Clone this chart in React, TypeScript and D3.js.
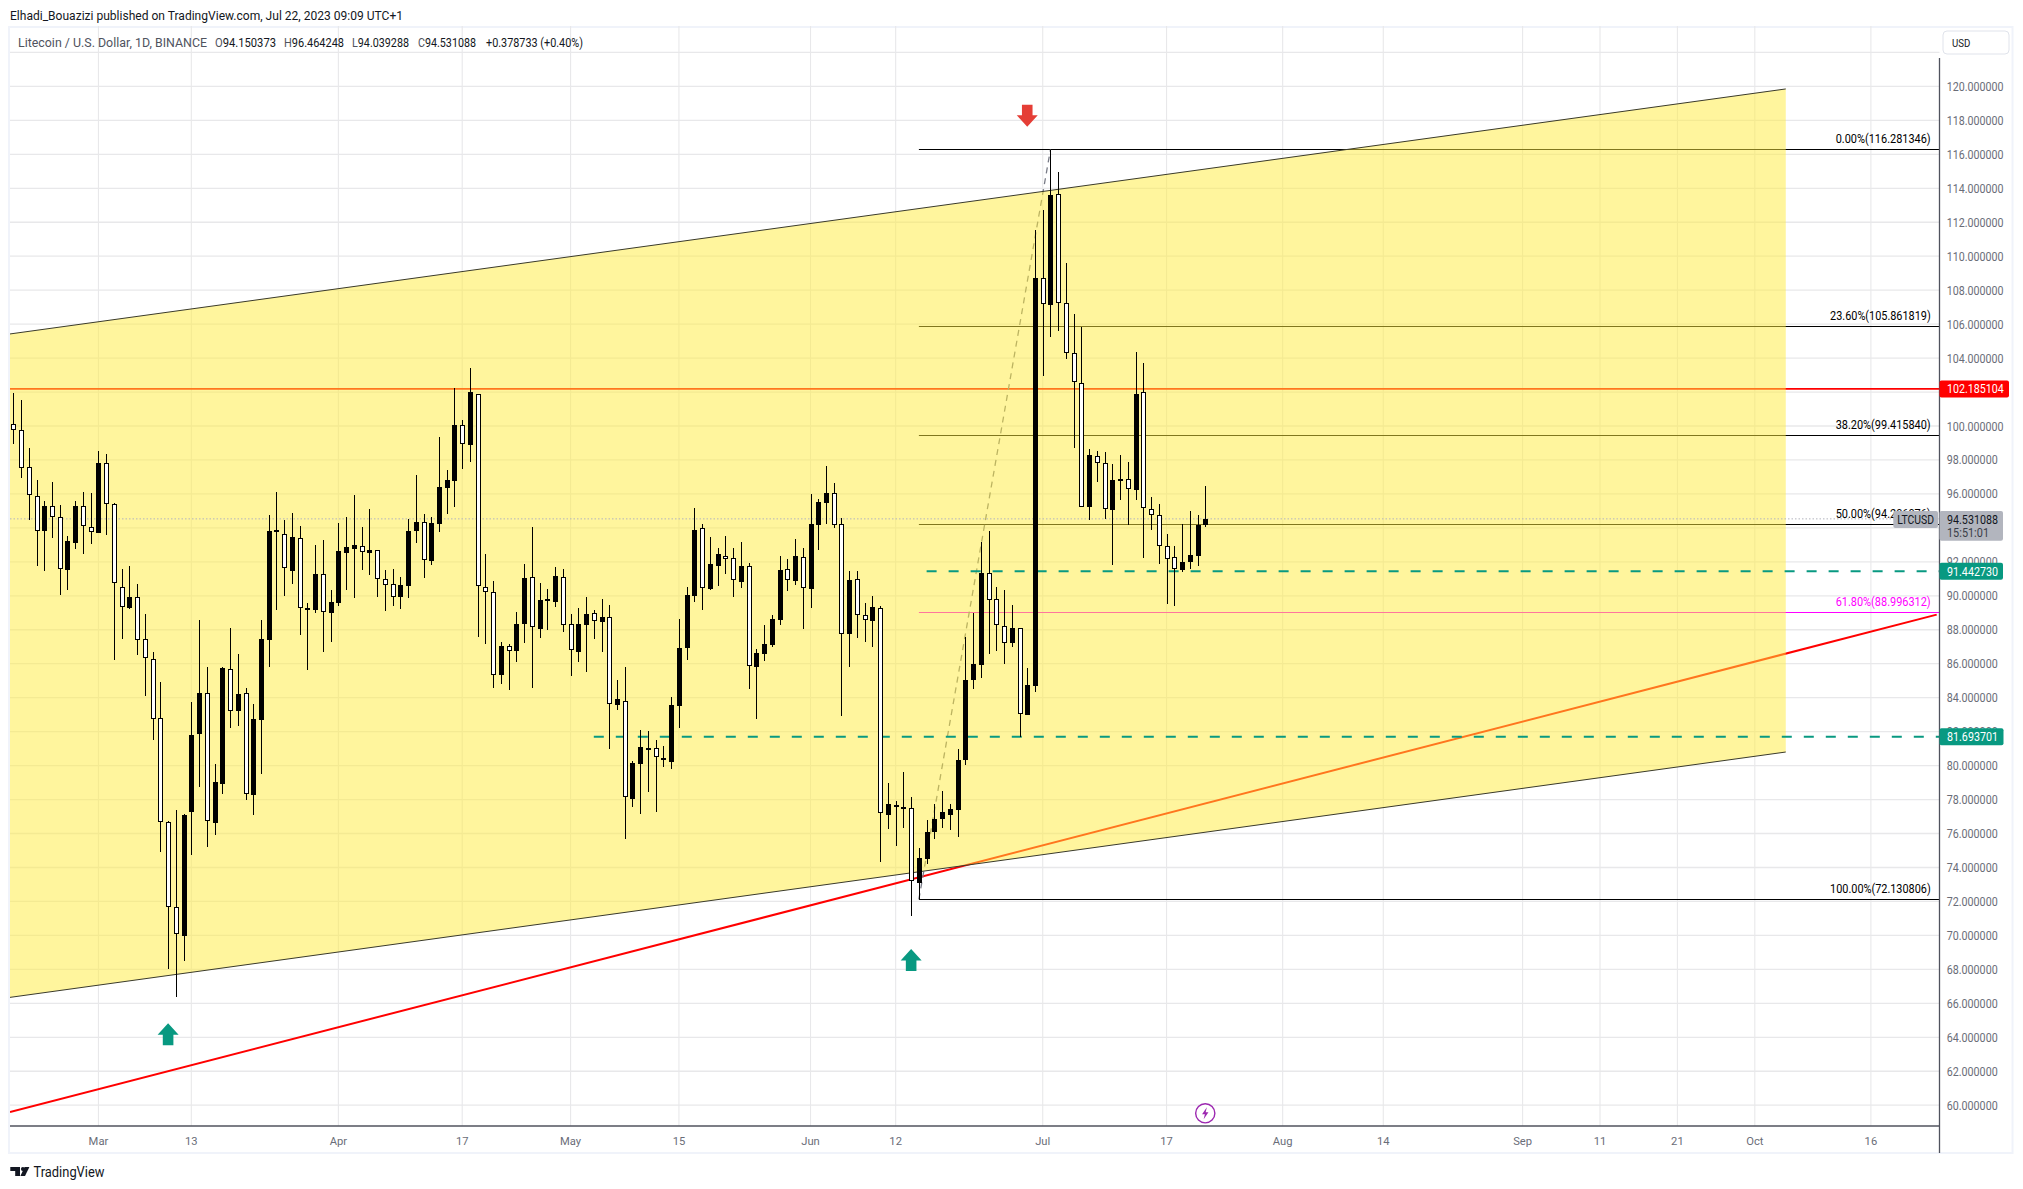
import React from "react";
import * as d3 from "d3";

const startDate = new Date(Date.UTC(2023, 1, 18));

const opens = [
  100.10,99.75,97.57,95.86,93.80,95.27,94.62,91.54,93.13,95.27,
  94.03,93.72,97.80,95.39,90.50,89.30,89.91,87.44,86.26,82.79,
  76.66,71.66,69.99,77.29,81.88,84.26,76.64,78.94,85.67,83.24,
  84.26,78.29,82.71,87.42,93.86,93.62,91.48,93.39,89.26,89.18,
  91.27,89.01,89.60,92.54,92.78,92.95,92.54,92.68,90.97,90.68,
  89.95,90.60,93.84,94.33,92.07,94.25,96.37,96.78,100.04,98.90,
  101.87,90.50,90.21,85.36,87.03,86.77,88.36,91.09,88.07,89.80,
  89.66,91.09,88.32,86.71,88.30,88.97,88.48,88.74,83.59,83.79,
  78.06,80.12,80.96,81.02,80.43,80.24,83.53,86.95,90.01,93.98,
  90.42,91.78,92.37,92.21,90.84,91.74,85.83,86.60,87.11,88.60,
  91.56,90.89,92.27,90.42,94.19,95.49,96.04,94.21,87.77,90.97,
  88.85,88.54,89.27,77.11,77.70,77.49,77.49,73.11,74.50,76.11,
  76.88,77.11,77.41,80.35,85.07,85.95,91.33,89.80,88.20,87.24,
  88.09,83.00,84.71,108.69,107.14,113.64,107.22,104.28,102.51,95.25,
  98.21,97.80,95.05,96.86,96.86,96.25,101.98,95.09,94.74,92.91,
  92.27,91.54,92.01,92.35,94.15,
];
const closes = [
  99.75,97.51,95.92,93.80,95.27,94.62,91.56,93.21,95.27,94.09,
  93.74,97.80,95.39,90.73,89.32,89.91,87.38,86.32,82.73,76.66,
  71.66,70.06,77.09,81.80,84.26,76.72,79.02,85.73,83.20,84.20,
  78.31,82.73,87.44,93.80,93.74,91.62,93.44,89.26,89.15,91.27,
  89.03,89.62,92.62,92.86,92.97,92.56,92.68,90.97,90.62,89.91,
  90.62,93.80,94.33,92.09,94.27,96.39,96.80,100.04,98.92,101.99,
  90.56,90.21,85.32,87.03,86.73,88.32,91.03,88.15,89.74,89.68,
  91.15,88.26,86.79,88.32,88.91,88.50,88.74,83.61,83.91,78.14,
  80.14,81.08,81.02,80.49,80.31,83.55,86.91,90.03,93.86,90.44,
  91.86,92.45,92.19,90.91,91.74,85.85,86.62,87.15,88.62,91.50,
  90.91,92.33,90.44,94.21,95.51,96.04,94.19,87.73,90.91,88.85,
  88.56,89.32,77.19,77.72,77.57,77.55,73.19,74.54,76.07,76.84,
  77.25,77.43,80.31,85.03,85.97,91.33,89.74,88.26,87.20,88.09,
  83.02,84.73,108.69,107.16,113.60,107.26,104.28,102.57,95.25,98.29,
  97.84,95.09,96.82,96.74,96.27,101.88,95.15,94.74,92.95,92.19,
  91.60,91.97,92.38,94.17,94.53,
];
const highs = [
  101.96,101.53,98.69,96.82,95.58,96.70,95.35,93.52,95.58,96.11,
  96.06,98.53,98.35,95.45,91.58,91.76,90.70,88.93,86.69,84.91,
  76.74,77.39,77.13,83.75,88.58,85.83,80.10,85.83,88.11,86.57,
  84.55,83.63,88.58,94.76,96.11,94.47,94.88,94.11,89.56,92.99,
  93.29,90.34,94.29,94.64,95.94,94.05,95.11,92.70,91.52,91.58,
  91.11,94.50,97.12,94.82,94.64,99.35,97.41,102.24,100.35,103.40,
  101.87,92.47,90.87,87.28,87.15,89.05,91.88,94.06,90.76,90.40,
  91.70,91.58,88.93,89.28,89.93,89.17,89.82,89.46,85.05,85.81,
  80.27,82.10,82.04,81.51,81.16,84.04,88.64,90.52,95.17,94.23,
  93.47,92.82,93.53,92.82,93.17,91.94,86.87,88.28,88.85,92.35,
  92.17,93.35,92.82,96.00,95.68,97.65,96.65,94.59,91.46,91.46,
  89.58,89.99,89.40,78.96,77.92,79.63,78.15,75.17,76.80,77.74,
  78.51,77.74,80.98,87.58,88.99,93.17,93.82,90.52,90.35,89.46,
  88.09,85.75,111.54,112.72,116.28,114.96,109.58,106.59,105.83,98.64,
  98.53,98.47,97.76,98.29,97.88,104.36,103.71,95.82,95.41,93.64,
  92.93,94.23,95.00,94.76,96.46,
];
const lows = [
  98.96,96.96,94.47,91.78,91.48,93.42,90.07,90.34,92.78,92.48,
  93.07,93.72,93.60,86.24,87.47,89.24,86.53,84.12,81.53,74.93,
  68.04,66.39,68.51,74.76,78.76,75.23,75.93,78.35,82.24,82.35,
  78.00,77.11,79.53,85.83,89.18,89.99,90.70,87.69,85.65,89.01,
  86.71,87.30,89.42,90.34,89.89,91.52,91.23,89.95,89.13,89.42,
  89.24,89.89,93.13,91.07,91.80,93.78,94.82,95.25,97.49,97.90,
  87.60,87.18,84.59,84.83,84.48,86.12,87.24,84.59,87.54,88.01,
  89.36,87.89,85.30,86.12,85.54,87.48,86.71,80.96,83.30,75.70,
  77.59,77.17,78.47,77.29,79.94,79.82,82.24,86.24,89.66,89.19,
  90.33,90.60,91.31,89.95,90.48,84.53,82.77,86.18,87.01,88.30,
  90.31,90.66,88.07,89.30,92.72,94.25,94.02,82.94,85.83,87.54,
  87.30,87.01,74.35,76.29,75.29,76.35,71.17,72.13,74.21,75.68,
  76.35,76.21,75.82,80.04,84.52,85.16,86.60,86.75,85.99,87.01,
  81.71,82.98,84.35,102.94,105.26,105.59,103.96,98.72,95.25,94.46,
  96.72,94.52,91.81,95.64,94.19,95.64,92.24,93.88,91.87,89.52,
  89.40,91.42,91.56,91.76,94.04,
];

const priceTicks = d3.range(60, 121, 2);
const timeTicks: [string, string][] = [
  ["2023-03-01", "Mar"], ["2023-03-13", "13"], ["2023-04-01", "Apr"], ["2023-04-17", "17"],
  ["2023-05-01", "May"], ["2023-05-15", "15"], ["2023-06-01", "Jun"], ["2023-06-12", "12"],
  ["2023-07-01", "Jul"], ["2023-07-17", "17"], ["2023-08-01", "Aug"], ["2023-08-14", "14"],
  ["2023-09-01", "Sep"], ["2023-09-11", "11"], ["2023-09-21", "21"], ["2023-10-01", "Oct"],
  ["2023-10-16", "16"],
];
const fibLevels: [string, number, string][] = [
  ["0.00%", 116.281346, "#000000"],
  ["23.60%", 105.861819, "#000000"],
  ["38.20%", 99.41584, "#000000"],
  ["50.00%", 94.206076, "#000000"],
  ["61.80%", 88.996312, "#ff00ff"],
  ["100.00%", 72.130806, "#000000"],
];
const fibStartDay = 117;
const fibTrend: [number, number][] = [[117, 72.130806], [134, 116.281346]];
const channelTop: [number, number][] = [[-0.43, 105.42], [229, 119.85]];
const channelBottom: [number, number][] = [[-0.43, 66.35], [229, 80.80]];
const redTrend: [number, number][] = [[-0.43, 59.60], [248.5, 88.89]];
const redLevel = 102.185104;
const greenLevels: [number, number][] = [[91.44273, 118], [81.693701, 75]];
const upArrows: [number, number][] = [[20, 64.82], [116, 69.20]];
const downArrows: [number, number][] = [[131, 117.63]];
const lastPrice = 94.531088;
const ohlcHeader: [string, string][] = [
  ["O", "94.150373"], ["H", "96.464248"], ["L", "94.039288"], ["C", "94.531088"],
];

const L = 10, R = 1939.5, T = 26, B = 1126;
const x = d3.scaleLinear().domain([0, 154]).range([13.3, 1205.26]);
const y = d3.scaleLinear().domain([120, 60]).range([86.4, 1105.2]);
const seg = d3.line<[number, number]>().x((d) => x(d[0])).y((d) => y(d[1]));
const FONT = "Roboto, 'Noto Sans', sans-serif";
const AXIS = "#6a6d78";
const GREEN = "#089981";
const GRID = "#e8e8ea";
const ohlcX = [215, 284, 352, 418];
const ohlcW = [61, 60, 57, 58];

function dayIndex(s: string) {
  return d3.utcDay.count(startDate, new Date(s + "T00:00:00Z"));
}
function numWidth(s: string) {
  return s.length >= 10 ? 56.8 : 51;
}

function Tag({ yc, label, fill, w }: { yc: number; label: string; fill: string; w: number }) {
  return (
    <g>
      <rect x={R} y={yc - 8.5} width={w} height={17} rx={2} fill={fill} />
      <text x={1947} y={yc + 4.5} fill="#fff" fontSize={12} fontFamily={FONT}
        textLength={numWidth(label)} lengthAdjust="spacingAndGlyphs">{label}</text>
    </g>
  );
}

export default function App() {
  const channelArea = [...channelTop, ...channelBottom.slice().reverse()];
  const yLast = y(lastPrice);
  return (
    <svg width={2023} height={1189} style={{ position: "absolute", left: 0, top: 0, display: "block", background: "#fff" }}>
      <defs>
        <clipPath id="plot"><rect x={L} y={T} width={R - L} height={B - T} /></clipPath>
      </defs>

      <text x={10} y={19.5} fontSize={12.3} fontFamily={FONT} fill="#131722" textLength={393} lengthAdjust="spacingAndGlyphs">
        Elhadi_Bouazizi published on TradingView.com, Jul 22, 2023 09:09 UTC+1
      </text>

      {/* frame */}
      <rect x={9} y={27} width={2003.5} height={1126} fill="none" stroke="#f0f3fa" strokeWidth={2} />

      {/* grid */}
      {priceTicks.concat([122]).map((p) => (
        <line key={p} x1={L} x2={R} y1={y(p)} y2={y(p)} stroke={GRID} strokeWidth={1.3} />
      ))}
      {timeTicks.map(([d]) => (
        <line key={d} x1={x(dayIndex(d))} x2={x(dayIndex(d))} y1={T} y2={B} stroke={GRID} strokeWidth={1.1} />
      ))}

      <g clipPath="url(#plot)">
        {/* lines that sit beneath the translucent channel */}
        <path d={seg(redTrend)!} stroke="#ff0000" strokeWidth={2} fill="none" />
        <line x1={L} x2={R} y1={y(redLevel)} y2={y(redLevel)} stroke="#ff0000" strokeWidth={1.6} />
        {fibLevels.map(([name, v, c]) => {
          const ly = Math.floor(y(v)) + 0.5;
          return <line key={name} x1={x(fibStartDay)} x2={R} y1={ly} y2={ly} stroke={c} strokeWidth={1} />;
        })}
        <path d={seg(fibTrend)!} stroke="#787b86" strokeWidth={1.3} strokeDasharray="6 5" fill="none" />

        {/* channel */}
        <path d={seg(channelArea)! + "Z"} fill="#ffeb3b" fillOpacity={0.5} />
        <path d={seg(channelTop)!} stroke="#3a3a2a" strokeWidth={1} fill="none" />
        <path d={seg(channelBottom)!} stroke="#3a3a2a" strokeWidth={1} fill="none" />

        {/* last price */}
        <line x1={L} x2={R} y1={yLast} y2={yLast} stroke="#b2b5be" strokeWidth={1} strokeDasharray="1.5 2" />

        {/* horizontal dashed levels */}
        {greenLevels.map(([v, d]) => (
          <line key={v} x1={x(d)} x2={R} y1={y(v)} y2={y(v)} stroke={GREEN} strokeWidth={2} strokeDasharray="10 12" />
        ))}

        {/* candles */}
        {opens.map((o, i) => {
          const c = closes[i];
          const cx = Math.round(x(i));
          const top = Math.round(y(Math.max(o, c)));
          const bot = Math.max(Math.round(y(Math.min(o, c))), top + 2);
          const up = c >= o;
          return (
            <g key={i} shapeRendering="crispEdges">
              <rect x={cx} y={y(highs[i])} width={1} height={y(lows[i]) - y(highs[i])} fill="#000" />
              <rect x={cx - 2} y={top} width={5} height={bot - top} fill="#000" />
              {!up && bot - top > 2 && (
                <rect x={cx - 1} y={top + 1} width={3} height={bot - top - 2} fill="#fff" />
              )}
            </g>
          );
        })}

        {/* arrows */}
        {upArrows.map(([d, p]) => {
          const ax = x(d), ay = y(p);
          return (
            <path key={d} fill={GREEN}
              d={`M${ax},${ay}L${ax + 10.5},${ay + 11.5}H${ax + 5.3}V${ay + 22}H${ax - 5.3}V${ay + 11.5}H${ax - 10.5}Z`} />
          );
        })}
        {downArrows.map(([d, p]) => {
          const ax = x(d), ay = y(p);
          return (
            <path key={d} fill="#e53e36"
              d={`M${ax},${ay}L${ax + 10.5},${ay - 11.5}H${ax + 5.3}V${ay - 22}H${ax - 5.3}V${ay - 11.5}H${ax - 10.5}Z`} />
          );
        })}

        {/* lightning marker */}
        <g transform={`translate(${x(154)},${1113.3})`}>
          <circle r={9.6} fill="#fff" stroke="#9c27b0" strokeWidth={1.4} />
          <path d="M1.6,-6L-3.2,1H-0.4L-1.6,6L3.2,-1H0.4Z" fill="#9c27b0" />
        </g>
      </g>

      {/* fib labels */}
      {fibLevels.map(([name, v, c]) => {
        const label = `${name}(${v.toFixed(6)})`;
        return (
          <text key={name} x={1930.7} y={y(v) - 6.5} textAnchor="end" fontSize={12} fontFamily={FONT} fill={c}
            textLength={label.length * 5.59} lengthAdjust="spacingAndGlyphs">
            {label}
          </text>
        );
      })}

      {/* axes */}
      <line x1={L} x2={R} y1={B} y2={B} stroke="#50535e" strokeWidth={1.3} />
      <line x1={R} x2={R} y1={58} y2={1153} stroke="#50535e" strokeWidth={1.3} />
      {priceTicks.map((p) => {
        const label = p.toFixed(6);
        return (
          <text key={p} x={1946.7} y={y(p) + 4.5} fontSize={12} fontFamily={FONT} fill={AXIS}
            textLength={numWidth(label)} lengthAdjust="spacingAndGlyphs">
            {label}
          </text>
        );
      })}
      {timeTicks.map(([d, label]) => (
        <text key={d} x={x(dayIndex(d))} y={1144.5} textAnchor="middle" fontSize={11.2} fontFamily={FONT} fill={AXIS}>
          {label}
        </text>
      ))}

      {/* price tags */}
      <Tag yc={y(redLevel)} label="102.185104" fill="#ff0000" w={69.5} />
      <Tag yc={y(91.44273)} label="91.442730" fill={GREEN} w={63.5} />
      <Tag yc={y(81.693701)} label="81.693701" fill={GREEN} w={64} />
      <rect x={1893.3} y={511} width={44.7} height={17} rx={2} fill="#b2b5be" />
      <text x={1915.6} y={524} textAnchor="middle" fontSize={12} fontFamily={FONT} fill="#131722"
        textLength={36.7} lengthAdjust="spacingAndGlyphs">LTCUSD</text>
      <rect x={R} y={511} width={63.5} height={29.7} rx={2} fill="#b2b5be" />
      <text x={1947} y={524} fontSize={12} fontFamily={FONT} fill="#131722" textLength={51} lengthAdjust="spacingAndGlyphs">94.531088</text>
      <text x={1947} y={536.5} fontSize={12} fontFamily={FONT} fill="#3a3d48" textLength={42} lengthAdjust="spacingAndGlyphs">15:51:01</text>

      {/* header */}
      <text y={46.5} fontSize={12} fontFamily={FONT} fill="#50535e" x={18} textLength={189} lengthAdjust="spacingAndGlyphs">Litecoin / U.S. Dollar, 1D, BINANCE</text>
      {ohlcHeader.map(([k, v], i) => (
        <text key={k} y={46.5} x={ohlcX[i]} fontSize={12} fontFamily={FONT} fill="#131722"
          textLength={ohlcW[i]} lengthAdjust="spacingAndGlyphs">
          <tspan fill="#50535e">{k}</tspan>{v}
        </text>
      ))}
      <text y={46.5} x={486} fontSize={12} fontFamily={FONT} fill="#131722" textLength={97} lengthAdjust="spacingAndGlyphs">+0.378733 (+0.40%)</text>

      {/* currency button */}
      <rect x={1943} y={31} width={66} height={23} rx={4} fill="#fff" stroke="#e0e3eb" strokeWidth={1} />
      <text x={1952} y={47} fontSize={11.5} fontFamily={FONT} fill="#131722" textLength={18.3} lengthAdjust="spacingAndGlyphs">USD</text>

      {/* logo */}
      <path d="M10.3,1167H20V1176H15.2V1171H10.3Z" fill="#131722" />
      <circle cx={22.9} cy={1169} r={2} fill="#131722" />
      <path d="M24.6,1167H29.4L25,1176H20.4Z" fill="#131722" />
      <text x={33.5} y={1177} fontSize={14} fontFamily={FONT} fill="#131722" textLength={71} lengthAdjust="spacingAndGlyphs">TradingView</text>
    </svg>
  );
}
